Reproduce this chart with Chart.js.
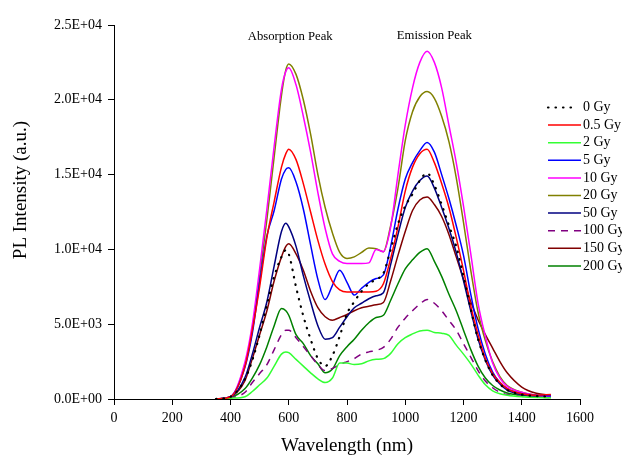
<!DOCTYPE html>
<html>
<head>
<meta charset="utf-8">
<script src="https://cdn.jsdelivr.net/npm/chart.js@4"></script>
<style>
  html, body { margin: 0; padding: 0; background: #fff; }
  canvas { display: block; }
</style>
</head>
<body>
<canvas id="plChart" width="622" height="459"></canvas>
<script>
// wavelength grid (nm) shared by every spectrum
const wavelengths = [350, 400, 450, 475, 500, 525, 550, 575, 590, 600, 625, 650, 675, 700, 725, 750, 775, 800, 825, 850, 875, 900, 925, 950, 975, 1000, 1025, 1050, 1075, 1100, 1125, 1150, 1175, 1200, 1225, 1250, 1275, 1300, 1325, 1350, 1400, 1450, 1500];

const doses = ["0 Gy", "0.5 Gy", "2 Gy", "5 Gy", "10 Gy", "20 Gy", "50 Gy", "100 Gy", "150 Gy", "200 Gy"];

const gy0   = [0, 150, 1350, 2600, 4300, 6300, 8200, 9500, 9950, 9700, 7500, 5550, 4000, 2700, 2200, 2900, 4200, 5700, 6500, 7200, 7700, 8000, 8400, 10000, 11700, 12900, 13700, 14600, 15100, 14300, 13000, 11600, 10200, 8200, 6000, 4000, 2600, 1600, 1000, 600, 300, 200, 150];
const gy05  = [0, 150, 2200, 4600, 7500, 10800, 13200, 15500, 16400, 16700, 16000, 14400, 12500, 10600, 9000, 7850, 7300, 7150, 7150, 7150, 7150, 7200, 7700, 9400, 11500, 13900, 15500, 16400, 16700, 15800, 14400, 12800, 10800, 8600, 6200, 4300, 2700, 1700, 1100, 700, 350, 250, 300];
const gy2   = [0, 50, 150, 500, 950, 1400, 2200, 3000, 3150, 3100, 2650, 2200, 1750, 1350, 1100, 1400, 2400, 2400, 2300, 2350, 2550, 2650, 2700, 3050, 3700, 4100, 4350, 4550, 4600, 4450, 4400, 4250, 3600, 3000, 2350, 1600, 950, 550, 350, 250, 150, 100, 80];
const gy5   = [0, 150, 2150, 4400, 7800, 10900, 12600, 14700, 15350, 15450, 14500, 12700, 10300, 8000, 6650, 7600, 8600, 7800, 6950, 7400, 7800, 8050, 8300, 10200, 12700, 14700, 15800, 16600, 17150, 16500, 15000, 13400, 11600, 9600, 7000, 4700, 3000, 1800, 1100, 700, 350, 250, 200];
const gy10  = [0, 150, 2500, 5000, 8700, 12700, 16900, 20700, 21900, 22150, 21000, 18900, 16500, 13800, 11400, 9700, 9200, 9050, 9050, 9050, 9100, 10000, 9850, 11500, 15000, 18300, 20800, 22500, 23250, 22500, 20800, 18300, 15800, 12900, 9700, 6400, 4200, 2400, 1400, 850, 450, 250, 150];
const gy20  = [0, 150, 2300, 4600, 8200, 12000, 16200, 20300, 22000, 22400, 21700, 20000, 17700, 15000, 12800, 11100, 9800, 9400, 9500, 9800, 10100, 10050, 9850, 11600, 14100, 17270, 19200, 20200, 20550, 20100, 18900, 17200, 14800, 11800, 8600, 5800, 3900, 2500, 1500, 900, 450, 250, 150];
const gy50  = [0, 150, 1450, 3000, 4800, 6500, 8900, 11200, 11750, 11500, 10200, 8250, 6500, 4900, 4000, 4100, 4800, 5500, 6100, 6400, 6700, 6900, 7100, 9000, 11000, 12800, 13900, 14600, 14900, 14100, 12800, 11400, 9800, 7900, 5900, 4000, 2600, 1600, 1000, 600, 300, 200, 150];
const gy100 = [0, 80, 450, 1100, 1700, 2300, 3300, 4300, 4600, 4600, 4100, 3500, 2900, 2300, 1900, 2050, 2300, 2500, 2700, 3000, 3150, 3250, 3450, 4000, 4800, 5400, 5900, 6350, 6650, 6400, 5900, 5250, 4600, 3700, 2800, 1900, 1200, 750, 450, 300, 180, 120, 100];
const gy150 = [0, 150, 1250, 2700, 4300, 5900, 7900, 9500, 10200, 10380, 9700, 8600, 7200, 6100, 5500, 5270, 5450, 5650, 5900, 6100, 6200, 6300, 6450, 7900, 9600, 11200, 12600, 13300, 13500, 13000, 12200, 11000, 9500, 8000, 6500, 5300, 4300, 3400, 2500, 1750, 800, 380, 250];
const gy200 = [0, 100, 700, 1400, 2300, 3500, 4900, 6050, 5900, 5600, 4300, 3700, 2900, 2350, 1750, 2000, 2900, 3500, 4000, 4600, 5100, 5450, 5600, 6600, 7700, 8700, 9300, 9800, 10050, 9200, 8200, 7000, 5900, 4600, 3300, 2200, 1400, 900, 600, 400, 250, 150, 100];

const yTicks = [0, 5000, 10000, 15000, 20000, 25000];
const peakLabels = ["Absorption Peak", "Emission Peak"];
const peakPos = [[605, 24200], [1100, 24300]];

const series = [gy0, gy05, gy2, gy5, gy10, gy20, gy50, gy100, gy150, gy200];
const colors = ["#000000", "#ff0000", "#33ff33", "#0000ff", "#ff00ff", "#808000", "#000080", "#800080", "#800000", "#008000"];
const dashes = [[0.5, 7], [], [], [], [], [], [], [7, 6], [], []];

const serif = "'Liberation Serif', 'Times New Roman', serif";

function sci(v){
  if (v === 0) return "0.0E+00";
  const e = Math.floor(Math.log10(v) + 1e-9);
  const m = v / Math.pow(10, e);
  return m.toFixed(1) + "E+" + String(e).padStart(2, "0");
}

const extras = {
  id: "extras",
  afterDraw(chart){
    const ctx = chart.ctx;
    const xs = chart.scales.x, ys = chart.scales.y;
    ctx.save();
    ctx.fillStyle = "#000";
    ctx.textBaseline = "middle";
    ctx.textAlign = "center";
    ctx.font = "12.7px " + serif;
    peakLabels.forEach((t, i) => {
      ctx.fillText(t, xs.getPixelForValue(peakPos[i][0]), ys.getPixelForValue(peakPos[i][1]));
    });
    // y-axis title, a bit above the middle of the axis
    ctx.save();
    ctx.translate(21, 190);
    ctx.rotate(-Math.PI / 2);
    ctx.font = "19px " + serif;
    ctx.fillText("PL Intensity (a.u.)", 0, 0);
    ctx.restore();
    // legend inside the plot, right side
    ctx.textAlign = "left";
    ctx.font = "14px " + serif;
    chart.data.datasets.forEach((ds, i) => {
      const y = 107.5 + i * 17.6;
      ctx.beginPath();
      ctx.strokeStyle = ds.borderColor;
      ctx.lineWidth = ds.borderWidth;
      ctx.lineCap = ds.borderCapStyle || "butt";
      ctx.setLineDash(ds.borderDash || []);
      ctx.moveTo(548, y);
      ctx.lineTo(i === 0 ? 576 : 581, y);
      ctx.stroke();
      ctx.setLineDash([]);
      ctx.fillText(ds.label, 583, y);
    });
    ctx.restore();
  }
};

new Chart(document.getElementById("plChart"), {
  type: "line",
  data: {
    datasets: series.map((vals, i) => ({
      label: doses[i],
      data: wavelengths.map((w, j) => ({ x: w, y: vals[j] })),
      borderColor: colors[i],
      borderWidth: i === 0 ? 2.2 : 1.5,
      borderDash: dashes[i],
      borderCapStyle: i === 0 ? "round" : "butt",
      pointRadius: 0,
      cubicInterpolationMode: "monotone",
      fill: false
    }))
  },
  options: {
    responsive: false,
    animation: false,
    layout: { padding: { left: 0, right: 42, top: 25, bottom: 0 } },
    plugins: { legend: { display: false }, tooltip: { enabled: false } },
    scales: {
      x: {
        type: "linear", min: 0, max: 1600,
        afterFit: s => { s.height = 60; },
        ticks: { stepSize: 200, color: "#000", padding: 5, callback: v => String(v), font: { family: serif, size: 14 } },
        grid: { drawOnChartArea: false, drawTicks: true, tickLength: 6, color: "#000" },
        border: { display: true, color: "#000", width: 1 },
        title: { display: true, text: "Wavelength (nm)", color: "#000", padding: { top: 0, bottom: 2 }, font: { family: serif, size: 19, lineHeight: 1.2 } }
      },
      y: {
        min: 0, max: 25000,
        afterFit: s => { s.width = 114; },
        afterBuildTicks: s => { s.ticks = yTicks.map(v => ({ value: v })); },
        ticks: { color: "#000", padding: 6, callback: v => sci(v), font: { family: serif, size: 14 } },
        grid: { drawOnChartArea: false, drawTicks: true, tickLength: 6, color: "#000" },
        border: { display: true, color: "#000", width: 1 },
        title: { display: false }
      }
    }
  },
  plugins: [extras]
});
</script>
</body>
</html>
